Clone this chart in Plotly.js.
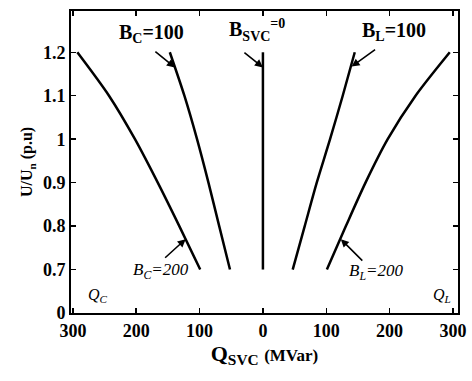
<!DOCTYPE html>
<html>
<head>
<meta charset="utf-8">
<script src="https://cdn.plot.ly/plotly-3.0.1.min.js"></script>
<style>
  body { margin: 0; background: #fff; }
  #plot { width: 472px; height: 381px; }
</style>
</head>
<body>
<div id="plot"></div>
<script>
// voltage levels (p.u) where the curves were read
const voltage = [1.2, 1.1, 1.0, 0.9, 0.8, 0.7];

// Q_SVC (MVar), capacitive side is negative
const qBc200 = [-293, -243, -202, -166, -132, -99];
const qBc100 = [-147, -124, -104, -86, -69, -52];
const qBsvc0 = [0, 0, 0, 0, 0, 0];
const qBl100 = [145, 126, 106, 85, 66, 47];
const qBl200 = [295, 241, 197, 162, 131, 101];

// tick labels
const xTickVals = [-300, -200, -100, 0, 100, 200, 300];
const xTickText = ['300', '200', '100', '0', '100', '200', '300'];
const yTickVals = [0.6, 0.7, 0.8, 0.9, 1.0, 1.1, 1.2];
const yTickText = ['0', '0.7', '0.8', '0.9', '1', '1.1', '1.2'];

const serif = 'Liberation Serif, Times New Roman, serif';

function curve(q) {
  return {
    x: q,
    y: voltage,
    type: 'scatter',
    mode: 'lines',
    line: { color: '#000', width: 2.5, shape: 'spline', smoothing: 0.8 },
    hoverinfo: 'skip'
  };
}

const data = [qBc200, qBc100, qBsvc0, qBl100, qBl200].map(curve);

// arrow heads sit on the curves, tails offset in pixels
function arrow(x, y, ax, ay) {
  return {
    x: x, y: y, xref: 'x', yref: 'y',
    text: '', showarrow: true,
    ax: ax, ay: ay,
    arrowhead: 2, arrowsize: 1, arrowwidth: 1.6, arrowcolor: '#000'
  };
}

function label(x, y, text, italic, size) {
  return {
    x: x, y: y, xref: 'x', yref: 'y',
    text: text, showarrow: false,
    xanchor: 'center', yanchor: 'middle',
    font: {
      family: serif,
      size: size || 20,
      color: '#000',
      weight: italic ? 'normal' : 'bold',
      style: italic ? 'italic' : 'normal'
    }
  };
}

const annotations = [
  label(-176, 1.244, '<b>B<sub>C</sub>=100</b>'),
  label(-10, 1.252, '<b>B<sub>SVC</sub><sup>=0</sup></b>'),
  label(207, 1.247, '<b>B<sub>L</sub>=100</b>'),
  label(-161, 0.696, 'B<sub>C</sub>=200', true, 17),
  label(178, 0.694, 'B<sub>L</sub>=200', true, 17),
  label(-261, 0.64, 'Q<sub>C</sub>', true, 16),
  label(283, 0.64, 'Q<sub>L</sub>', true, 16),
  arrow(-139, 1.165, -21, -17),
  arrow(0, 1.165, -20, -16),
  arrow(140, 1.167, 25, -18),
  arrow(-122, 0.77, -22, 20),
  arrow(123, 0.77, 23, 23)
];

const axisCommon = {
  showgrid: false,
  zeroline: false,
  showline: true,
  linecolor: '#000',
  linewidth: 2,
  mirror: 'allticks',
  ticks: 'inside',
  ticklen: 5,
  tickwidth: 1.5,
  tickcolor: '#000',
  tickfont: { family: serif, size: 18, color: '#000', weight: 'bold' }
};

const layout = {
  width: 472,
  height: 381,
  margin: { l: 71, r: 14, t: 11, b: 68 },
  paper_bgcolor: '#fff',
  plot_bgcolor: '#fff',
  showlegend: false,
  xaxis: Object.assign({}, axisCommon, {
    range: [-303, 308],
    tickvals: xTickVals,
    ticktext: xTickText,
    title: {
      text: 'Q<sub>SVC</sub> <span style="font-size:17px">(MVar)</span>',
      font: { family: serif, size: 22, color: '#000', weight: 'bold' },
      standoff: 3
    }
  }),
  yaxis: Object.assign({}, axisCommon, {
    range: [0.6, 1.295],
    tickvals: yTickVals,
    ticktext: yTickText,
    title: {
      text: 'U/U<sub>n</sub> (p.u)',
      font: { family: serif, size: 16, color: '#000', weight: 'bold' },
      standoff: 6
    }
  }),
  annotations: annotations
};

Plotly.newPlot('plot', data, layout, { staticPlot: true, displayModeBar: false });
</script>
</body>
</html>
